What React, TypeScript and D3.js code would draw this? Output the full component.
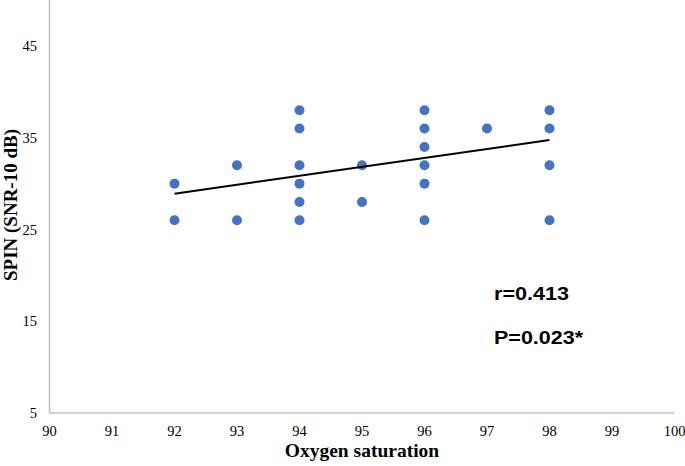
import React from "react";
import * as d3 from "d3";

const xTicks = [90, 91, 92, 93, 94, 95, 96, 97, 98, 99, 100];
const yTicks = [5, 15, 25, 35, 45];
const pointX = [92, 92, 93, 93, 94, 94, 94, 94, 94, 94, 95, 95, 96, 96, 96, 96, 96, 96, 97, 98, 98, 98, 98];
const pointY = [30, 26, 32, 26, 38, 36, 32, 30, 28, 26, 32, 28, 38, 36, 34, 32, 30, 26, 36, 38, 36, 32, 26];
const trendX = [92, 98];
const trendY = [28.9, 34.75];
const stats = ["r=0.413", "P=0.023*"];

export default function App() {
  const W = 685, H = 466;
  const x = d3.scaleLinear().domain([90, 100]).range([49.5, 674.5]);
  const y = d3.scaleLinear().domain([5, 45]).range([413, 46]);
  const line = d3.line<number>().x((d, i) => x(trendX[i])).y((d) => y(d));
  const serif = "'Liberation Serif', 'Times New Roman', serif";
  const sans = "'Liberation Sans', Arial, sans-serif";
  return (
    <svg width={W} height={H} style={{ position: "absolute", left: 0, top: 0, background: "#fff" }}>
      <line x1={x(90)} x2={x(90)} y1={0} y2={y(5)} stroke="#bfbfbf" strokeWidth={1.5} />
      <line x1={x(90)} x2={x(100)} y1={y(5)} y2={y(5)} stroke="#bfbfbf" strokeWidth={1.5} />
      {yTicks.map((t) => (
        <text key={t} x={37} y={y(t) + 5} textAnchor="end" fontFamily={serif} fontSize={14.5} fill="#000">{t}</text>
      ))}
      {xTicks.map((t) => (
        <text key={t} x={x(t)} y={436} textAnchor="middle" fontFamily={serif} fontSize={14.5} fill="#000">{t}</text>
      ))}
      <text x={362} y={457} textAnchor="middle" fontFamily={serif} fontSize={19.5} fontWeight="bold" fill="#000">Oxygen saturation</text>
      <text transform="translate(17,205) rotate(-90)" textAnchor="middle" fontFamily={serif} fontSize={19} fontWeight="bold" fill="#000">SPIN (SNR-10 dB)</text>
      {pointX.map((px, i) => (
        <circle key={i} cx={x(px)} cy={y(pointY[i])} r={5} fill="#4472C4" />
      ))}
      <path d={line(trendY) || ""} fill="none" stroke="#000" strokeWidth={2} />
      <text x={494} y={300} fontFamily={sans} fontSize={18.5} fontWeight="bold" fill="#000" textLength={75} lengthAdjust="spacingAndGlyphs">{stats[0]}</text>
      <text x={494} y={344} fontFamily={sans} fontSize={18.5} fontWeight="bold" fill="#000" textLength={89} lengthAdjust="spacingAndGlyphs">{stats[1]}</text>
    </svg>
  );
}
